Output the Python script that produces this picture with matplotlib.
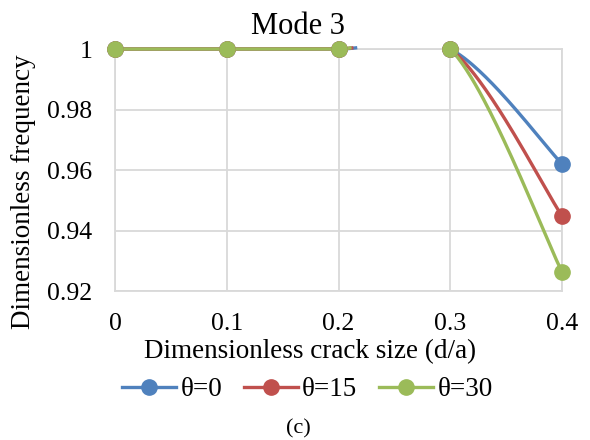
import matplotlib

matplotlib.use("Agg")
import matplotlib.pyplot as plt
import numpy as np

plt.rcParams["font.family"] = ["Liberation Serif", "DejaVu Serif"]

crack_size = [0.0, 0.1, 0.2, 0.3, 0.4]
freq_theta0 = [1.0, 1.0, 1.0, 1.0, 0.962]
freq_theta15 = [1.0, 1.0, 1.0, 1.0, 0.9448]
freq_theta30 = [1.0, 1.0, 1.0, 1.0, 0.9263]
labels = ["θ=0", "θ=15", "θ=30"]
colors = ["#4f81bd", "#c0504d", "#9bbb59"]


def smooth(x, y, n=60):
    """Catmull-Rom style Bezier smoothing, as spreadsheet 'smoothed line' does."""
    x = np.asarray(x, float)
    y = np.asarray(y, float)
    px = np.concatenate([[x[0]], x, [x[-1]]])
    py = np.concatenate([[y[0]], y, [y[-1]]])
    xs, ys = [], []
    t = np.linspace(0, 1, n)
    for i in range(1, len(px) - 2):
        p0 = np.array([px[i], py[i]])
        p3 = np.array([px[i + 1], py[i + 1]])
        p1 = p0 + (np.array([px[i + 1], py[i + 1]]) - np.array([px[i - 1], py[i - 1]])) / 6
        p2 = p3 - (np.array([px[i + 2], py[i + 2]]) - np.array([px[i], py[i]])) / 6
        b = (np.outer((1 - t) ** 3, p0) + np.outer(3 * (1 - t) ** 2 * t, p1)
             + np.outer(3 * (1 - t) * t ** 2, p2) + np.outer(t ** 3, p3))
        xs.append(b[:, 0])
        ys.append(b[:, 1])
    return np.concatenate(xs), np.concatenate(ys)


fig = plt.figure(figsize=(5.9, 4.4), dpi=100)
ax = fig.add_axes([0.195, 0.3386, 0.7576, 0.55])

for y, lab, c in zip([freq_theta0, freq_theta15, freq_theta30], labels, colors):
    sx, sy = smooth(crack_size, y)
    sy = np.where(sy > 1.0004, np.nan, sy)  # plot area clips the overshoot
    ax.plot(sx, sy, color=c, lw=2.4, clip_on=False, zorder=3)
    ax.plot(crack_size, y, "o", color=c, ms=11, clip_on=False, zorder=4)
    ax.plot([], [], "-o", color=c, lw=2.4, ms=11, label=lab)

ax.set_xlim(0, 0.4)
ax.set_ylim(0.92, 1.0)
ax.set_xticks([0, 0.1, 0.2, 0.3, 0.4])
ax.set_xticklabels(["0", "0.1", "0.2", "0.3", "0.4"])
ax.set_yticks([0.92, 0.94, 0.96, 0.98, 1.0])
ax.set_yticklabels(["0.92", "0.94", "0.96", "0.98", "1"])
ax.grid(True, color="#d9d9d9", lw=1.3)
for s in ax.spines.values():
    s.set_color("#d9d9d9")
    s.set_linewidth(1.3)
ax.tick_params(length=0, labelsize=18.5)
ax.tick_params(axis="x", pad=16)
ax.tick_params(axis="y", pad=16.5)
ax.set_axisbelow(True)

ax.set_title("Mode 3", fontsize=22, pad=11, x=0.409)
ax.set_ylabel("Dimensionless frequency", fontsize=19.5, va="center")
ax.yaxis.set_label_coords(-0.204, 0.409)
ax.set_xlabel("Dimensionless crack size (d/a)", fontsize=19.5, va="center")
ax.xaxis.set_label_coords(0.436, -0.252)

fig.legend(loc="center", bbox_to_anchor=(0.521, 0.114), ncol=3, frameon=False,
           fontsize=19.5, handlelength=2.0, handletextpad=0.15, columnspacing=0.8,
           borderaxespad=0, borderpad=0)
fig.text(0.505, 0.025, "(c)", ha="center", va="center", fontsize=16)

fig.savefig("out.png", dpi=100)
